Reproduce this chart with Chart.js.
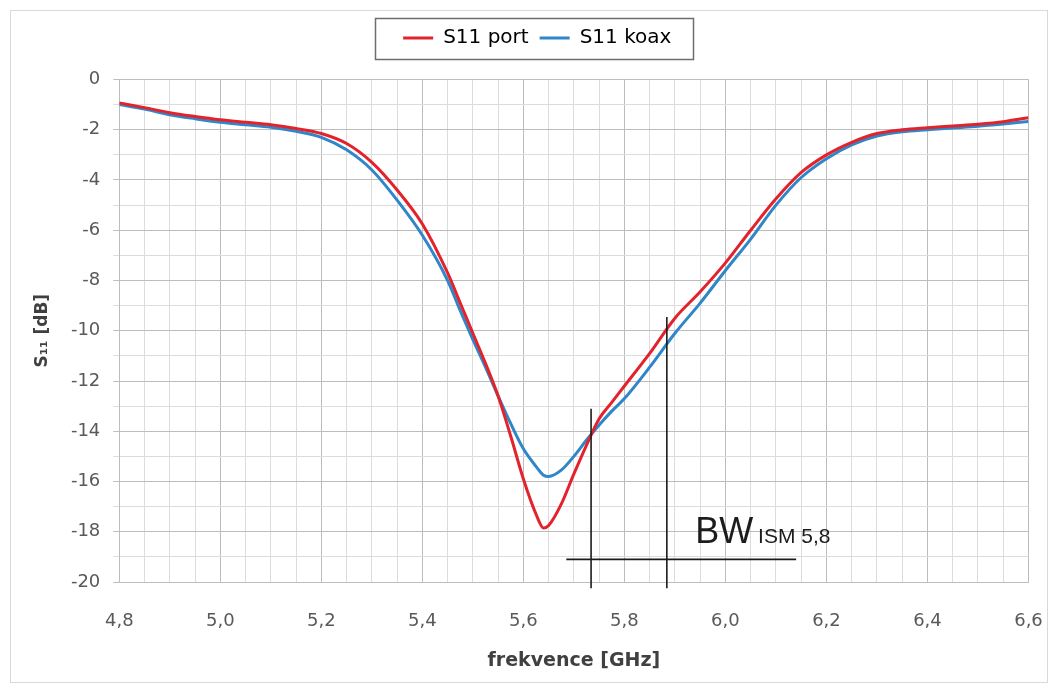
<!DOCTYPE html>
<html>
<head>
<meta charset="utf-8">
<script src="https://cdn.jsdelivr.net/npm/chart.js@4.4.1/dist/chart.umd.min.js"></script>
<style>
    html, body { margin: 0; padding: 0; background: #fff; }
    #wrap { width: 1059px; height: 690px; position: relative; }
</style>
</head>
<body>
<div id="wrap"><canvas id="graf"></canvas></div>
<script>
// kmitocet [GHz]
const freqs = [4.80, 4.85, 4.90, 4.95, 5.00, 5.05, 5.10, 5.15, 5.20, 5.25, 5.30, 5.35, 5.40, 5.45, 5.475,
    5.50, 5.525, 5.55, 5.575, 5.60, 5.625, 5.64, 5.65, 5.675, 5.70, 5.725, 5.75, 5.775, 5.80, 5.85,
    5.90, 5.95, 6.00, 6.05, 6.10, 6.15, 6.20, 6.25, 6.30, 6.35, 6.40, 6.45, 6.50, 6.55, 6.60];

// S11 [dB] - mereno na portu
const s11Port = [-0.93, -1.12, -1.32, -1.47, -1.60, -1.70, -1.80, -1.95, -2.15, -2.55, -3.30, -4.40, -5.75, -7.70, -8.90,
    -10.10, -11.30, -12.60, -14.20, -15.90, -17.30, -17.85, -17.75, -16.90, -15.70, -14.55, -13.50, -12.85, -12.20, -10.90,
    -9.50, -8.45, -7.30, -6.00, -4.75, -3.70, -3.00, -2.50, -2.15, -2.00, -1.92, -1.85, -1.78, -1.68, -1.52];

// S11 [dB] - mereno s koaxem
const s11Koax = [-1.00, -1.18, -1.40, -1.56, -1.70, -1.80, -1.90, -2.06, -2.30, -2.80, -3.60, -4.80, -6.20, -8.00, -9.20,
    -10.35, -11.45, -12.60, -13.70, -14.70, -15.40, -15.75, -15.80, -15.55, -15.00, -14.35, -13.75, -13.20, -12.70, -11.45,
    -10.10, -8.90, -7.60, -6.35, -5.00, -3.90, -3.15, -2.60, -2.25, -2.08, -2.00, -1.93, -1.86, -1.77, -1.67];

const seriesNames = ['S11 port', 'S11 koax'];
const seriesColors = ['#e3232c', '#2f86c8'];

// osy
const xRange = [4.8, 6.6];
const yRange = [-20, 0];

// vyznaceni pasma ISM 5,8 GHz
const bandEdges = [5.734, 5.884];
const bandLineTops = [-13.1, -9.45];
const bandLineBottom = -20.25;
const bandBarX = [5.685, 6.14];
const bandBarY = -19.1;
const bandLabelPos = [5.94, -18.45];

const gridMajor = '#bdbdbd';
const gridMinor = '#dcdcdc';
const fontFam = '"DejaVu Sans", sans-serif';

function toPoints(vals){
    return freqs.map((f, i) => ({x: f, y: vals[i]}));
}

const framePlugin = {
    id: 'ramecek',
    beforeInit(chart){
        // pevna vyska legendy, aby graf zacinal na stejnem miste
        const fit = chart.legend.fit;
        chart.legend.fit = function(){
            fit.call(this);
            this.height = 62.5;
        };
    },
    afterLayout(chart){
        chart.legend.left += 11;
        chart.legend.right += 11;
    },
    beforeDraw(chart){
        const ctx = chart.ctx;
        ctx.save();
        ctx.fillStyle = '#fff';
        ctx.fillRect(0, 0, chart.width, chart.height);
        ctx.strokeStyle = '#d9d9d9';
        ctx.lineWidth = 1;
        ctx.strokeRect(10.5, 10.5, 1037, 672);
        ctx.restore();
    },
    afterDraw(chart){
        const boxes = chart.legend.legendHitBoxes;
        if (!boxes || !boxes.length) return;
        const ctx = chart.ctx;
        const left = Math.min(...boxes.map(b => b.left)) - 28;
        const right = Math.max(...boxes.map(b => b.left + b.width)) + 22;
        ctx.save();
        ctx.strokeStyle = '#6e6e6e';
        ctx.lineWidth = 1.5;
        ctx.strokeRect(Math.round(left) + 0.5, 18.5, Math.round(right - left), 41);
        ctx.restore();
    }
};

const bandPlugin = {
    id: 'pasmo',
    afterDatasetsDraw(chart){
        const {ctx, scales: {x, y}} = chart;
        ctx.save();
        ctx.strokeStyle = '#1c1c1c';
        ctx.lineWidth = 1.6;
        ctx.beginPath();
        bandEdges.forEach((f, i) => {
            const px = x.getPixelForValue(f);
            ctx.moveTo(px, y.getPixelForValue(bandLineTops[i]));
            ctx.lineTo(px, y.getPixelForValue(bandLineBottom));
        });
        ctx.moveTo(x.getPixelForValue(bandBarX[0]), y.getPixelForValue(bandBarY));
        ctx.lineTo(x.getPixelForValue(bandBarX[1]), y.getPixelForValue(bandBarY));
        ctx.stroke();

        const tx = x.getPixelForValue(bandLabelPos[0]);
        const ty = y.getPixelForValue(bandLabelPos[1]);
        ctx.fillStyle = '#1c1c1c';
        ctx.textBaseline = 'alphabetic';
        ctx.font = '36px "Liberation Sans"';
        ctx.fillText('BW', tx, ty);
        const w = ctx.measureText('BW').width;
        ctx.font = '21px "Liberation Sans"';
        ctx.fillText('ISM 5,8', tx + w + 5, ty);
        ctx.restore();
    }
};

const isMajorX = v => Math.round(v * 100) % 20 === 0;
const isMajorY = v => Math.round(v) % 2 === 0;

const config = {
    type: 'line',
    data: {
        datasets: [
            {
                label: seriesNames[0],
                data: toPoints(s11Port),
                borderColor: seriesColors[0],
                backgroundColor: seriesColors[0],
                borderWidth: 3,
                pointRadius: 0,
                cubicInterpolationMode: 'monotone',
                fill: false
            },
            {
                label: seriesNames[1],
                data: toPoints(s11Koax),
                borderColor: seriesColors[1],
                backgroundColor: seriesColors[1],
                borderWidth: 3,
                pointRadius: 0,
                cubicInterpolationMode: 'monotone',
                fill: false
            }
        ]
    },
    options: {
        responsive: true,
        maintainAspectRatio: false,
        animation: false,
        devicePixelRatio: 1,
        layout: {
            padding: {left: 24, right: 30.5, top: 17, bottom: 10}
        },
        plugins: {
            tooltip: {enabled: false},
            legend: {
                position: 'top',
                labels: {
                    color: '#333',
                    font: {family: fontFam, size: 20},
                    boxWidth: 30,
                    boxHeight: 3,
                    padding: 11,
                    generateLabels: chart => chart.data.datasets.map((ds, i) => ({
                        text: ds.label,
                        fillStyle: ds.borderColor,
                        strokeStyle: ds.borderColor,
                        lineWidth: 0,
                        hidden: false,
                        datasetIndex: i
                    }))
                }
            }
        },
        scales: {
            x: {
                type: 'linear',
                min: xRange[0],
                max: xRange[1],
                afterFit: s => { s.height = 690 - 10 - 582; },
                ticks: {
                    stepSize: 0.05,
                    maxTicksLimit: 100,
                    autoSkip: false,
                    maxRotation: 0,
                    padding: 2,
                    color: '#595959',
                    font: {family: fontFam, size: 18},
                    callback: v => isMajorX(v) ? v.toFixed(1).replace('.', ',') : ''
                },
                grid: {
                    drawTicks: true,
                    tickLength: 27,
                    tickColor: 'rgba(0,0,0,0)',
                    lineWidth: 1,
                    color: c => isMajorX(c.tick.value) ? gridMajor : gridMinor
                },
                border: {color: gridMajor},
                title: {
                    display: true,
                    text: 'frekvence [GHz]',
                    color: '#404040',
                    font: {family: fontFam, size: 19, weight: 'bold'},
                    padding: {top: 0, bottom: 8}
                }
            },
            y: {
                min: yRange[0],
                max: yRange[1],
                afterFit: s => { s.width = 119.3 - 24; },
                ticks: {
                    stepSize: 1,
                    autoSkip: false,
                    padding: 13,
                    color: '#595959',
                    font: {family: fontFam, size: 18},
                    callback: v => isMajorY(v) ? String(v) : ''
                },
                grid: {
                    tickLength: 6,
                    lineWidth: 1,
                    color: c => isMajorY(c.tick.value) ? gridMajor : gridMinor
                },
                border: {color: gridMajor},
                title: {
                    display: true,
                    text: 'S₁₁ [dB]',
                    color: '#404040',
                    font: {family: fontFam, size: 17, weight: 'bold'},
                    padding: {top: 8, bottom: 0}
                }
            }
        }
    },
    plugins: [framePlugin, bandPlugin]
};

new Chart(document.getElementById('graf'), config);
</script>
</body>
</html>
